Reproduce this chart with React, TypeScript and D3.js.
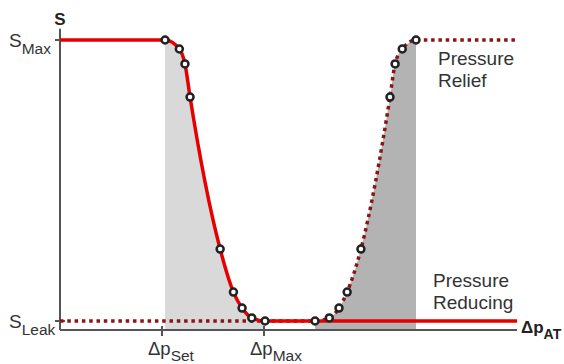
import React from "react";
import * as d3 from "d3";

// Pressure-reducing characteristic (falling curve), Δp in units of Δp_Set, S normalised (S_Leak=0, S_Max=1)
const reducingP = [1.03, 1.17, 1.225, 1.275, 1.57, 1.70, 1.785, 1.88, 2.01];
const reducingS = [1, 0.968, 0.915, 0.797, 0.256, 0.103, 0.046, 0.011, 0];
// Pressure-relief characteristic (rising curve)
const reliefP = [2.5, 2.64, 2.735, 2.815, 2.95, 3.235, 3.285, 3.355, 3.49];
const reliefS = [0, 0.011, 0.046, 0.103, 0.256, 0.797, 0.915, 0.968, 1];
// Axis extents and markers
const pAxisMax = 4.48;
const sAxisMin = -0.032;
const sAxisMax = 1.04;
const pTicks = [
  { p: 1, sub: "Set" },
  { p: 2, sub: "Max" },
];
const sTicks = [
  { s: 1, sub: "Max" },
  { s: 0, sub: "Leak" },
];

const W = 564;
const H = 364;
const FONT = "'Liberation Sans', Arial, sans-serif";

export default function App() {
  const x = d3.scaleLinear().domain([0, pAxisMax]).range([60, 517]);
  const y = d3.scaleLinear().domain([0, 1]).range([321, 40]);

  const red: [number, number][] = [
    [0, 1],
    ...reducingP.map((p, i) => [p, reducingS[i]] as [number, number]),
    [pAxisMax, 0],
  ];
  const dotted: [number, number][] = [
    [0, 0],
    ...reliefP.map((p, i) => [p, reliefS[i]] as [number, number]),
    [pAxisMax, 1],
  ];
  const line = d3
    .line<[number, number]>()
    .x((d) => x(d[0]))
    .y((d) => y(d[1]))
    .curve(d3.curveMonotoneX);
  const area = d3
    .area<[number, number]>()
    .x((d) => x(d[0]))
    .y0(y(sAxisMin))
    .y1((d) => y(d[1]))
    .curve(d3.curveMonotoneX);

  const redPts = reducingP.map((p, i) => [p, reducingS[i]] as [number, number]);
  const relPts = reliefP.map((p, i) => [p, reliefS[i]] as [number, number]);

  const axisColor = "#555";
  const textColor = "#333";

  return (
    <svg width={W} height={H} style={{ position: "absolute", left: 0, top: 0 }} fontFamily={FONT}>
      <rect x={0} y={0} width={W} height={H} fill="#fff" />
      <path d={area(redPts) || ""} fill="#d9d9d9" />
      <path d={area(relPts) || ""} fill="#b3b3b3" />

      {/* axes */}
      <line x1={x(0)} x2={x(0)} y1={y(sAxisMax)} y2={y(sAxisMin)} stroke={axisColor} strokeWidth={2} />
      <line x1={x(0)} x2={x(pAxisMax)} y1={y(sAxisMin)} y2={y(sAxisMin)} stroke={axisColor} strokeWidth={2} />
      {sTicks.map((t) => (
        <line key={t.sub} x1={x(0) - 5} x2={x(0) + 5} y1={y(t.s)} y2={y(t.s)} stroke={axisColor} strokeWidth={2} />
      ))}
      {pTicks.map((t) => (
        <line key={t.sub} x1={x(t.p)} x2={x(t.p)} y1={y(sAxisMin) - 4} y2={y(sAxisMin) + 6} stroke={axisColor} strokeWidth={2} />
      ))}

      <path d={line(dotted) || ""} fill="none" stroke="#8a1515" strokeWidth={3.5} strokeDasharray="3.5 3.8" />
      <path d={line(red) || ""} fill="none" stroke="#e60000" strokeWidth={3.5} />

      {[...redPts, ...relPts].map((d, i) => (
        <circle key={i} cx={x(d[0])} cy={y(d[1])} r={3.5} fill="#fff" stroke="#222" strokeWidth={2.5} />
      ))}

      {/* labels */}
      <text x={x(0)} y={25} textAnchor="middle" fontSize={17} fontWeight="bold" fill="#222">S</text>
      {sTicks.map((t) => (
        <text key={t.sub} x={9} y={y(t.s) + 7} fontSize={19} fill={textColor}>
          S<tspan dy={7} fontSize={15.5}>{t.sub}</tspan>
        </text>
      ))}
      {pTicks.map((t) => (
        <text key={t.sub} x={x(t.p) - 14} y={355} fontSize={18.5} fill={textColor}>
          Δp<tspan dy={6} fontSize={15.5}>{t.sub}</tspan>
        </text>
      ))}
      <text x={521} y={333} fontSize={17} fontWeight="bold" fill="#222">
        Δp<tspan dy={6} fontSize={14}>AT</tspan>
      </text>

      <text x={438} y={65} fontSize={19} fill={textColor}>Pressure</text>
      <text x={438} y={87} fontSize={19} fill={textColor}>Relief</text>
      <text x={433} y={287} fontSize={19} fill={textColor}>Pressure</text>
      <text x={433} y={309} fontSize={19} fill={textColor}>Reducing</text>
    </svg>
  );
}
